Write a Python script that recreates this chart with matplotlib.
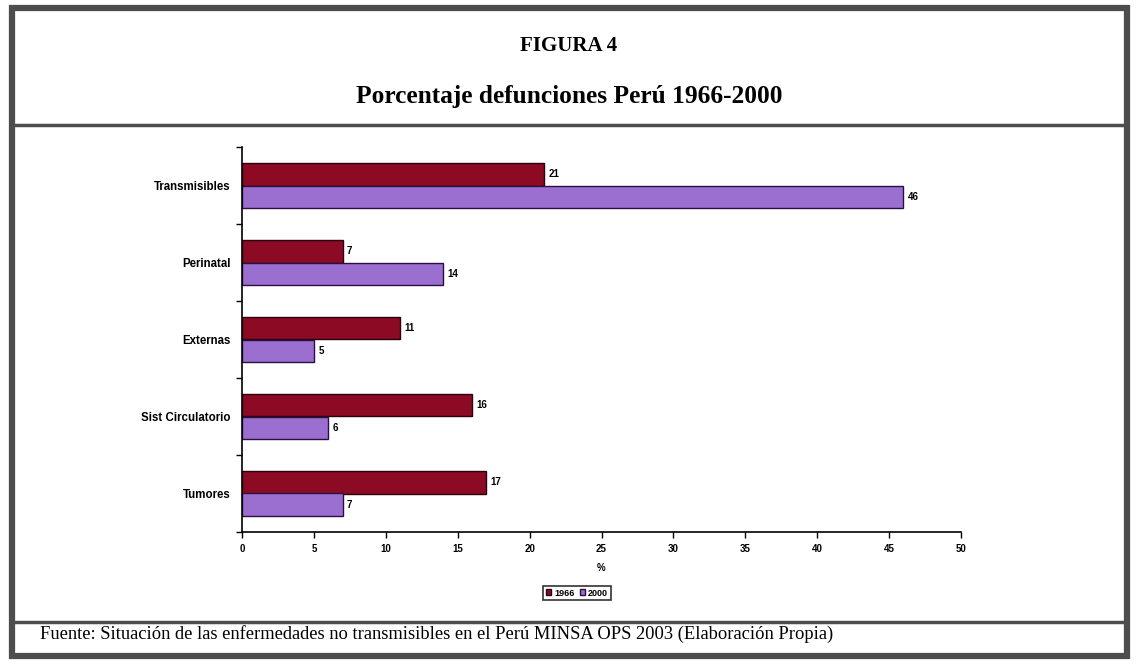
import matplotlib.pyplot as plt
import numpy as np
from matplotlib.patches import Rectangle
from matplotlib.lines import Line2D

# porcentaje de defunciones por causa
causas = ["Transmisibles", "Perinatal", "Externas", "Sist Circulatorio", "Tumores"]
valores_1966 = [21, 7, 11, 16, 17]
valores_2000 = [46, 14, 5, 6, 7]
ticks_x = list(range(0, 55, 5))

W, H = 1137, 664
fig = plt.figure(figsize=(W / 100, H / 100), dpi=100)
fig.patch.set_facecolor("white")

def fx(px):
    return px / W

def fy(py):
    return 1 - py / H

# marco exterior y separadores
borde = "#4d4d4d"
fig.add_artist(Rectangle((fx(12), fy(656)), fx(1127) - fx(12), fy(8) - fy(656),
                         transform=fig.transFigure, fill=False,
                         edgecolor=borde, linewidth=4.5))
fig.add_artist(Line2D([fx(12), fx(1127)], [fy(125), fy(125)],
                      transform=fig.transFigure, color=borde, linewidth=2.5))
fig.add_artist(Line2D([fx(12), fx(1127)], [fy(622), fy(622)],
                      transform=fig.transFigure, color=borde, linewidth=2.5))

# titulos
fig.text(fx(569), fy(46), "FIGURA 4", ha="center", va="center",
         family="Liberation Serif", weight="bold", fontsize=15)
fig.text(fx(569), fy(97), "Porcentaje defunciones Perú 1966-2000", ha="center",
         va="center", family="Liberation Serif", weight="bold", fontsize=18.3)
fig.text(fx(40), fy(634), "Fuente: Situación de las enfermedades no transmisibles en el Perú "
         "MINSA OPS 2003 (Elaboración Propia)", ha="left", va="center",
         family="Liberation Serif", fontsize=13.3)

# grafico de barras
ax = fig.add_axes([fx(242), fy(532), fx(961) - fx(242), fy(147) - fy(532)])
y = np.arange(len(causas))
alto = 0.29
fuente_ejes = {"family": "Liberation Sans", "weight": "bold"}
b1 = ax.barh(y - alto / 2, valores_1966, height=alto, color="#8c0a24",
             edgecolor="#2a0010", linewidth=1.0, label="1966")
b2 = ax.barh(y + alto / 2, valores_2000, height=alto, color="#9a6fd0",
             edgecolor="#2a1040", linewidth=1.0, label="2000")

for barras, vals in [(b1, valores_1966), (b2, valores_2000)]:
    for barra, v in zip(barras, vals):
        ax.text(v + 0.3, barra.get_y() + barra.get_height() / 2, str(v),
                ha="left", va="center", fontsize=7, **fuente_ejes)

ax.set_xlim(0, 50)
ax.set_ylim(len(causas) - 0.5, -0.5)
ax.set_xticks(ticks_x)
ax.set_xticklabels([str(t) for t in ticks_x], fontsize=7, **fuente_ejes)
ax.set_yticks(y)
ax.set_yticklabels(causas, fontsize=8.3, **fuente_ejes)
ax.set_yticks(np.arange(-0.5, len(causas), 1.0), minor=True)
ax.tick_params(axis="y", which="major", length=0, pad=8)
ax.tick_params(axis="y", which="minor", length=4, width=1, direction="out")
ax.tick_params(axis="x", length=4, width=1, direction="out", pad=5)
for lado in ["top", "right"]:
    ax.spines[lado].set_visible(False)
for lado in ["left", "bottom"]:
    ax.spines[lado].set_linewidth(1.2)
ax.set_xlabel("%", fontsize=7, labelpad=6, **fuente_ejes)

leg = ax.legend(loc="center", bbox_to_anchor=(fx(577), fy(593)),
                bbox_transform=fig.transFigure, ncol=2, frameon=True,
                prop={"family": "Liberation Sans", "size": 6.5, "weight": "bold"},
                handlelength=0.6, handleheight=0.6, handletextpad=0.3,
                columnspacing=0.6, borderpad=0.3, fancybox=False)
leg.get_frame().set_edgecolor("black")
leg.get_frame().set_linewidth(1.2)

fig.savefig("out.png", dpi=100)
